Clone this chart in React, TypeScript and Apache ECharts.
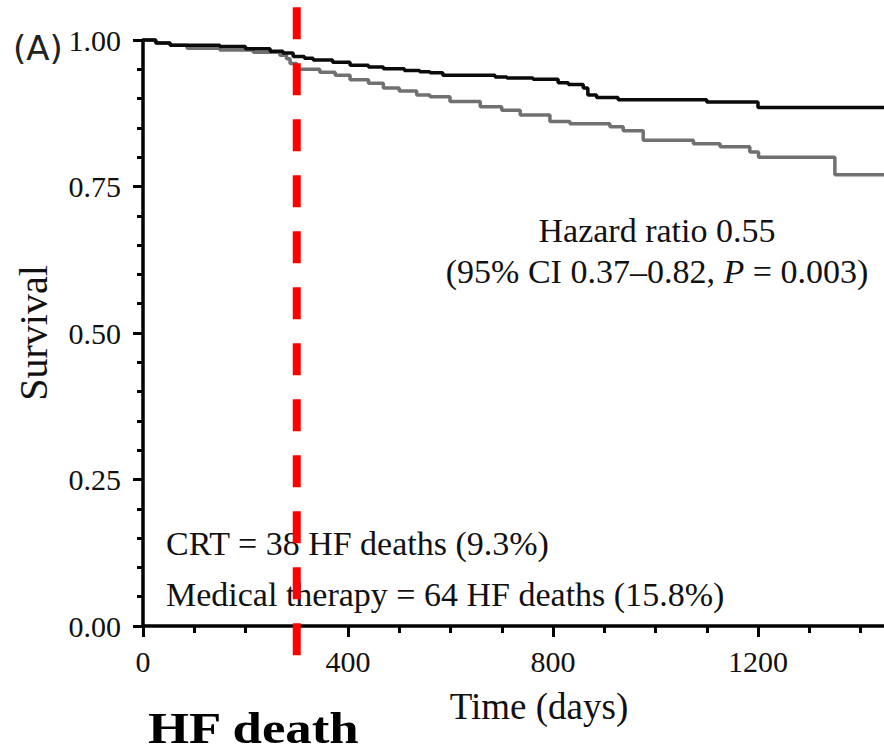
import React, { useEffect, useRef } from "react";
import * as echarts from "echarts";

// Kaplan–Meier curves (day, survival after event)
const crtDays = [0, 25, 53, 150, 200, 248, 273, 293, 315, 332, 370, 404, 440, 469, 510, 540, 560, 585, 687, 710, 761, 810, 830, 859, 868, 885, 927, 1100, 1200, 1450];
const crtSurvival = [1.0, 0.995, 0.991, 0.989, 0.985, 0.981, 0.978, 0.972, 0.969, 0.966, 0.962, 0.957, 0.954, 0.951, 0.948, 0.946, 0.944, 0.94, 0.937, 0.935, 0.933, 0.927, 0.924, 0.918, 0.906, 0.902, 0.898, 0.894, 0.885, 0.885];

const medDays = [0, 25, 53, 86, 150, 215, 267, 280, 287, 300, 345, 375, 404, 440, 469, 500, 534, 560, 599, 658, 700, 736, 794, 833, 911, 937, 976, 1074, 1126, 1184, 1201, 1350, 1450];
const medSurvival = [1.0, 0.995, 0.991, 0.986, 0.983, 0.979, 0.974, 0.968, 0.96, 0.95, 0.945, 0.94, 0.932, 0.926, 0.918, 0.913, 0.906, 0.903, 0.895, 0.886, 0.88, 0.872, 0.861, 0.857, 0.852, 0.845, 0.829, 0.823, 0.818, 0.809, 0.8, 0.77, 0.77];

const xMin = 0;
const xMax = 1600;
const xInterval = 400;
const yMin = 0;
const yMax = 1;
const yInterval = 0.25;

const refLineDay = 300;
const refLineSpan = [1.056, -0.05];

const panelLabel = "(A)";
const yName = "Survival";
const xName = "Time (days)";
const hazardLines = ["Hazard ratio 0.55", "(95% CI 0.37–0.82, {i|P} = 0.003)"];
const deathLines = ["CRT = 38 HF deaths (9.3%)", "Medical therapy = 64 HF deaths (15.8%)"];
const footer = "HF death";

const SERIF = "'Liberation Serif', 'Times New Roman', serif";

export default function App() {
  const ref = useRef<HTMLDivElement>(null);

  useEffect(() => {
    if (!ref.current) return;
    const chart = echarts.init(ref.current, undefined, { renderer: "svg" });
    const crtData = crtDays.map((d, i) => [d, crtSurvival[i]]);
    const medData = medDays.map((d, i) => [d, medSurvival[i]]);

    chart.setOption({
      animation: false,
      backgroundColor: "#ffffff",
      grid: { left: 143, top: 40, right: 0, bottom: 127, containLabel: false },
      xAxis: {
        type: "value",
        min: xMin,
        max: xMax,
        interval: xInterval,
        name: xName,
        nameLocation: "middle",
        nameGap: 62,
        nameTextStyle: { fontFamily: SERIF, fontSize: 37, color: "#111", padding: [0, 28, 0, 0] },
        axisLine: { show: true, onZero: false, lineStyle: { color: "#000", width: 3.5 } },
        axisTick: { show: true, inside: false, length: 11, lineStyle: { color: "#000", width: 3 } },
        minorTick: { show: true, splitNumber: 4, length: 7, lineStyle: { color: "#000", width: 3 } },
        splitLine: { show: false },
        minorSplitLine: { show: false },
        axisLabel: {
          fontFamily: SERIF,
          fontSize: 30,
          color: "#111",
          margin: 20,
          showMaxLabel: false,
          formatter: (v: number) => String(v),
        },
      },
      yAxis: {
        type: "value",
        min: yMin,
        max: yMax,
        interval: yInterval,
        name: yName,
        nameLocation: "middle",
        nameGap: 90,
        nameTextStyle: { fontFamily: SERIF, fontSize: 40, color: "#111" },
        axisLine: { show: true, onZero: false, lineStyle: { color: "#000", width: 3.5 } },
        axisTick: { show: true, inside: false, length: 10, lineStyle: { color: "#000", width: 3 } },
        minorTick: { show: true, splitNumber: 5, length: 6, lineStyle: { color: "#000", width: 3 } },
        splitLine: { show: false },
        minorSplitLine: { show: false },
        axisLabel: {
          fontFamily: SERIF,
          fontSize: 30,
          color: "#111",
          margin: 22,
          padding: [10, 0, 0, 0],
          formatter: (v: number) => v.toFixed(2),
        },
      },
      series: [
        {
          name: "Medical therapy",
          type: "line",
          step: "end",
          data: medData,
          showSymbol: false,
          symbol: "none",
          clip: false,
          lineStyle: { color: "#707070", width: 3.5 },
          z: 2,
        },
        {
          name: "CRT",
          type: "line",
          step: "end",
          data: crtData,
          showSymbol: false,
          symbol: "none",
          clip: false,
          lineStyle: { color: "#0a0a0a", width: 3.5 },
          z: 3,
        },
      ],
    });

    const rx = chart.convertToPixel({ xAxisIndex: 0 }, refLineDay) as number;
    const ry1 = chart.convertToPixel({ yAxisIndex: 0 }, refLineSpan[0]) as number;
    const ry2 = chart.convertToPixel({ yAxisIndex: 0 }, refLineSpan[1]) as number;

    chart.setOption({
      graphic: [
        {
          type: "text",
          x: 13,
          y: 48,
          style: {
            text: panelLabel,
            fontFamily: "'DejaVu Sans', sans-serif",
            fontSize: 34,
            fill: "#222",
            align: "left",
            verticalAlign: "middle",
          },
        },
        {
          type: "text",
          x: 657,
          y: 230.5,
          style: {
            text: hazardLines[0],
            fontFamily: SERIF,
            fontSize: 34,
            fill: "#111",
            align: "center",
            verticalAlign: "middle",
          },
        },
        {
          type: "text",
          x: 657,
          y: 271.5,
          style: {
            text: hazardLines[1],
            fontFamily: SERIF,
            fontSize: 34,
            fill: "#111",
            align: "center",
            verticalAlign: "middle",
            rich: {
              i: { fontFamily: SERIF, fontSize: 34, fontStyle: "italic", fill: "#111" },
            },
          },
        },
        {
          type: "text",
          x: 166,
          y: 543.5,
          style: {
            text: deathLines[0],
            fontFamily: SERIF,
            fontSize: 34,
            fill: "#111",
            align: "left",
            verticalAlign: "middle",
          },
        },
        {
          type: "text",
          x: 166,
          y: 594.5,
          style: {
            text: deathLines[1],
            fontFamily: SERIF,
            fontSize: 34,
            fill: "#111",
            align: "left",
            verticalAlign: "middle",
          },
        },
        {
          type: "text",
          x: 148,
          y: 729,
          scaleX: 1.2,
          style: {
            text: footer,
            fontFamily: SERIF,
            fontWeight: "bold",
            fontSize: 44,
            fill: "#000",
            align: "left",
            verticalAlign: "middle",
          },
        },
        {
          type: "line",
          z: 100,
          shape: { x1: rx, y1: ry1, x2: rx, y2: ry2 },
          style: { stroke: "#ff0000", lineWidth: 8, lineDash: [32, 24], lineCap: "butt" },
        },
      ],
    });

    return () => chart.dispose();
  }, []);

  return (
    <div
      style={{ position: "absolute", left: 0, top: 0, width: 884, height: 753, overflow: "hidden", background: "#fff" }}
    >
      <div ref={ref} style={{ width: 963, height: 753 }} />
    </div>
  );
}
